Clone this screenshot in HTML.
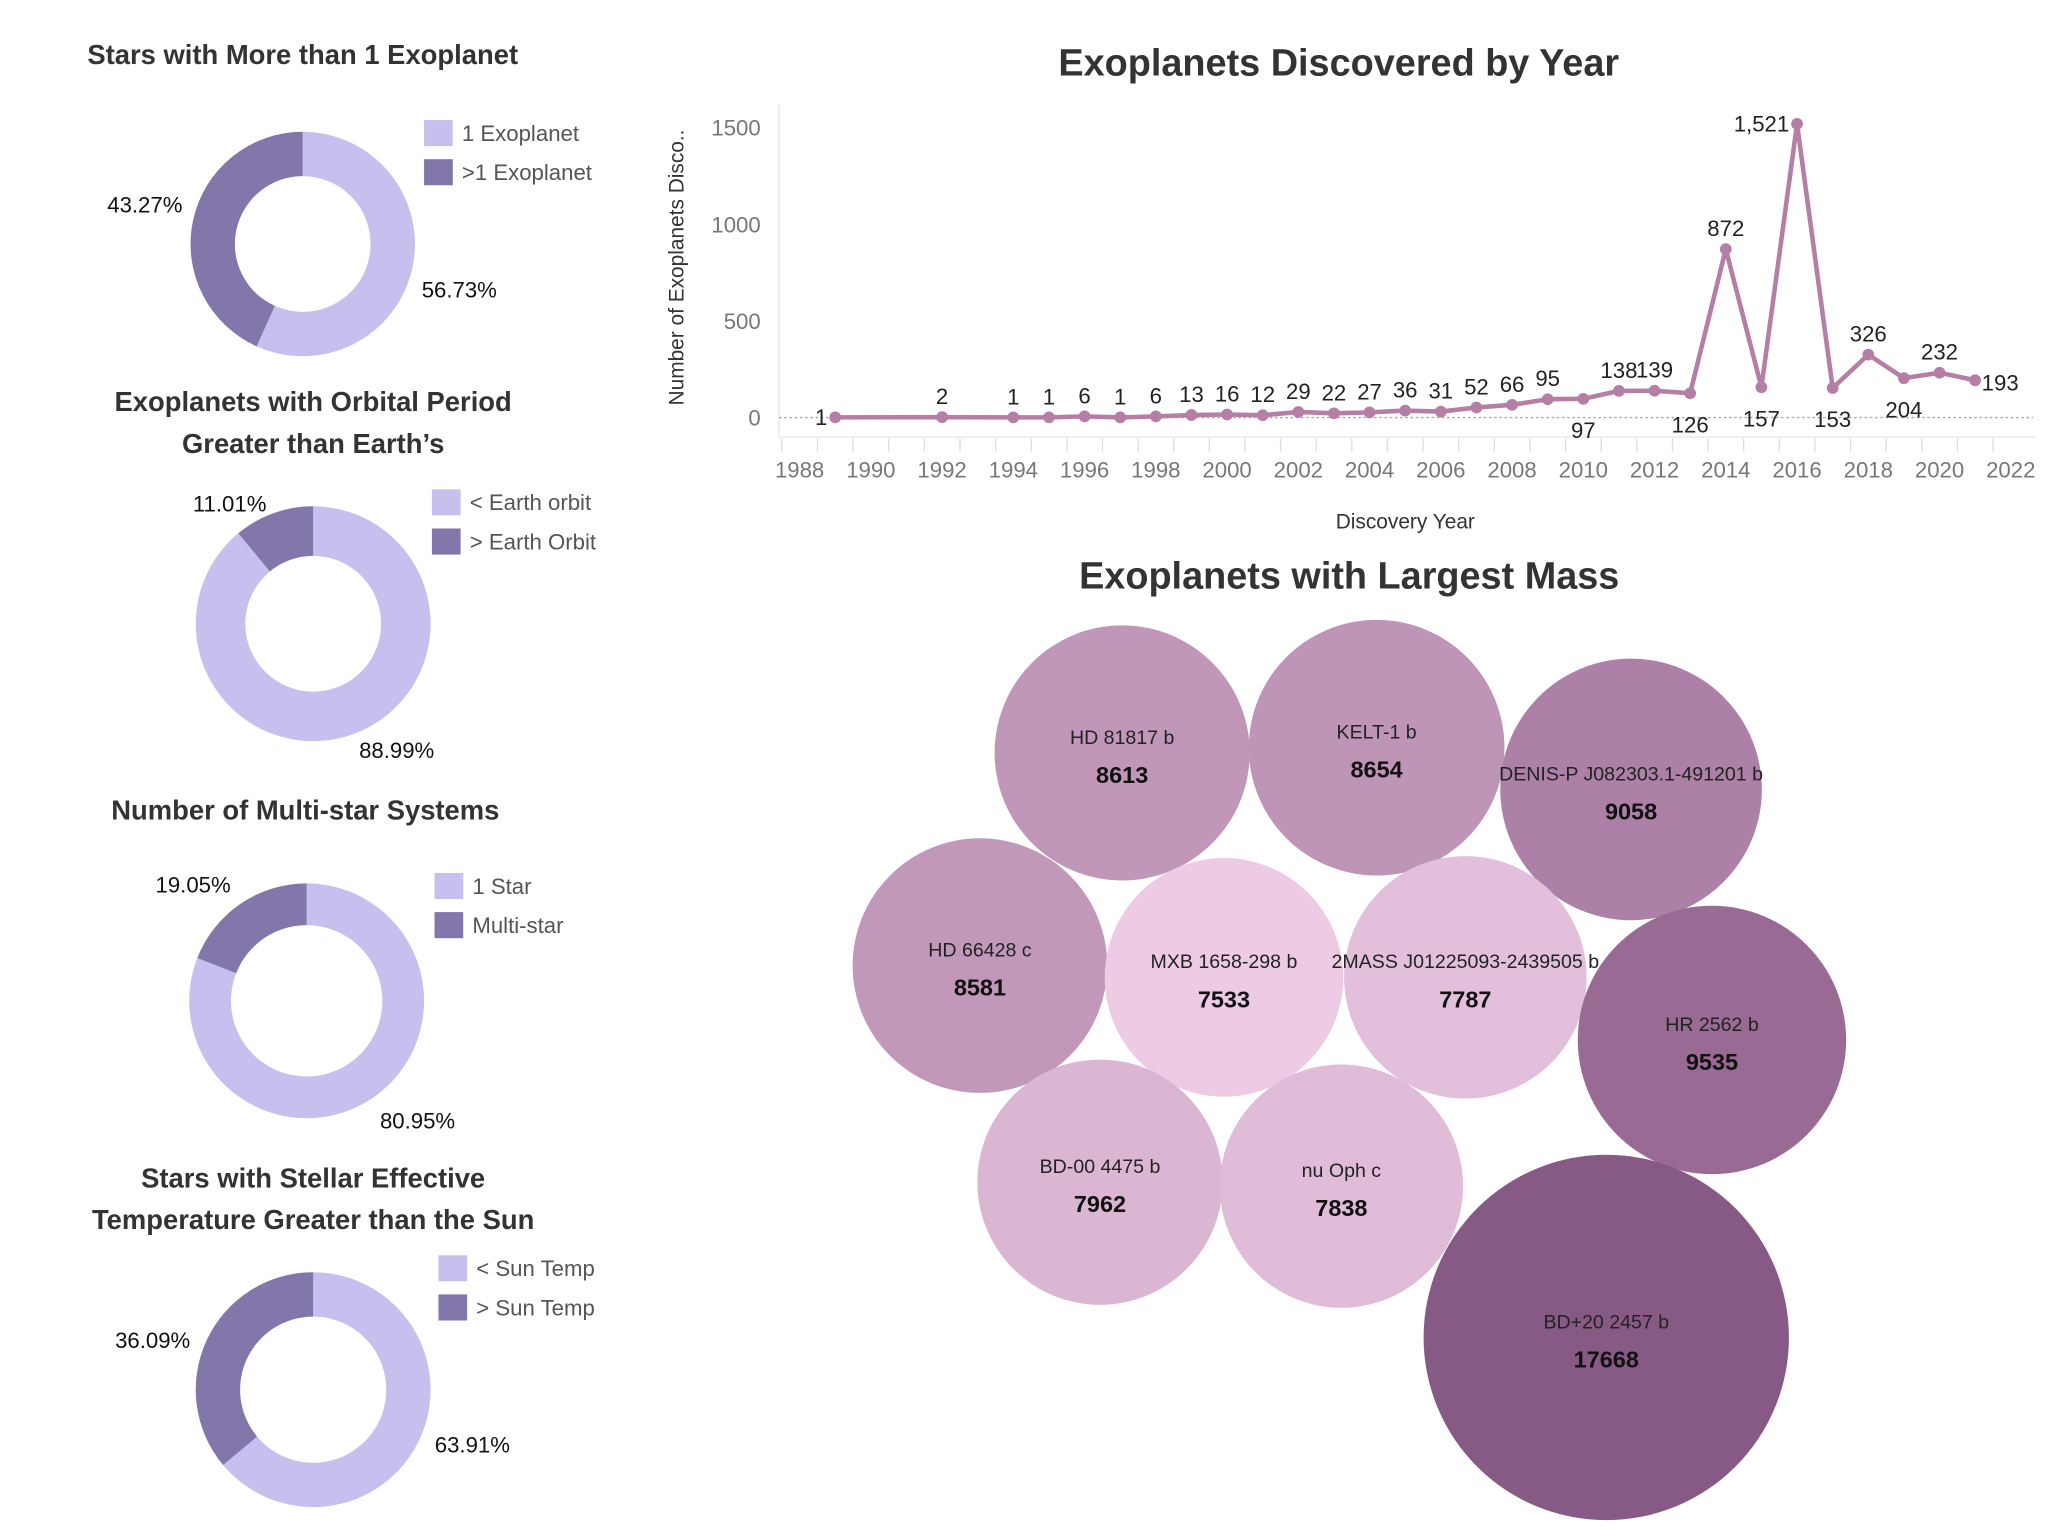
<!DOCTYPE html>
<html><head><meta charset="utf-8"><style>
html,body{margin:0;padding:0;background:#fff;}
svg{display:block;font-family:"Liberation Sans",sans-serif;}
</style></head><body>
<svg id="root" width="2046" height="1534" viewBox="0 0 1568 1175.6" xmlns="http://www.w3.org/2000/svg">
<g id="donuts"></g>
<g id="line"></g>
<g id="bubbles"></g>
</svg>
<script>
// ---- Line chart data ----
const years = [1989,1992,1994,1995,1996,1997,1998,1999,2000,2001,2002,2003,2004,2005,2006,2007,2008,2009,2010,2011,2012,2013,2014,2015,2016,2017,2018,2019,2020,2021];
const counts = [1,2,1,1,6,1,6,13,16,12,29,22,27,36,31,52,66,95,97,138,139,126,872,157,1521,153,326,204,232,193];
const labelPlacement = ['l','a','a','a','a','a','a','a','a','a','a','a','a','a','a','a','a','a','b','a','a','b','a','b','l','b','a','b','a','r'];
const yTicks = [0,500,1000,1500];
const xTicks = [1988,1990,1992,1994,1996,1998,2000,2002,2004,2006,2008,2010,2012,2014,2016,2018,2020,2022];

// ---- Donut data ----
const donutTitles = [["Stars with More than 1 Exoplanet"],["Exoplanets with Orbital Period","Greater than Earth\u2019s"],["Number of Multi-star Systems"],["Stars with Stellar Effective","Temperature Greater than the Sun"]];
const donutLight = [56.73, 88.99, 80.95, 63.91];
const donutDark = [43.27, 11.01, 19.05, 36.09];
const donutLegends = [["1 Exoplanet",">1 Exoplanet"],["< Earth orbit","> Earth Orbit"],["1 Star","Multi-star"],["< Sun Temp","> Sun Temp"]];

// ---- Bubble data ----
const planetNames = ["HD 81817 b","KELT-1 b","DENIS-P J082303.1-491201 b","HD 66428 c","MXB 1658-298 b","2MASS J01225093-2439505 b","HR 2562 b","BD-00 4475 b","nu Oph c","BD+20 2457 b"];
const planetMass = [8613,8654,9058,8581,7533,7787,9535,7962,7838,17668];

const NS="http://www.w3.org/2000/svg";
function mk(tag,attrs,parent,text){const e=document.createElementNS(NS,tag);for(const k in attrs)e.setAttribute(k,attrs[k]);if(text!==undefined)e.textContent=text;parent.appendChild(e);return e;}

// ===== Donuts =====
const dg=document.getElementById('donuts');
const dLayout=[
 {cx:232,cy:187,ro:86,ri:52,ty:[42],tx:232,lx:325,ly:92,pl:[[111,157,'middle'],[352,222,'middle']]},
 {cx:240,cy:478,ro:90,ri:52,ty:[308,340],tx:240,lx:331,ly:375,pl:[[176,386,'middle'],[304,575,'middle']]},
 {cx:235,cy:767,ro:90,ri:58,ty:[621],tx:234,lx:333,ly:669,pl:[[148,678,'middle'],[320,859,'middle']]},
 {cx:240,cy:1065,ro:90,ri:56,ty:[903,935],tx:240,lx:336,ly:962,pl:[[117,1027,'middle'],[362,1107,'middle']]}
];
function arc(cx,cy,ro,ri,a0,a1){
 const p=(r,a)=>[cx+r*Math.sin(a),cy-r*Math.cos(a)];
 const large=(a1-a0)>Math.PI?1:0;
 const [x0,y0]=p(ro,a0),[x1,y1]=p(ro,a1),[x2,y2]=p(ri,a1),[x3,y3]=p(ri,a0);
 return `M${x0},${y0}A${ro},${ro} 0 ${large} 1 ${x1},${y1}L${x2},${y2}A${ri},${ri} 0 ${large} 0 ${x3},${y3}Z`;
}
dLayout.forEach((L,i)=>{
 const g=mk('g',{},dg);
 
 
 donutTitles[i].forEach((t,j)=>{
  const te=mk('text',{x:L.tx,y:L.ty[j]+7,'text-anchor':'middle','font-size':21,'font-weight':'bold',fill:'#333'},g,t);
  
  
 });
 const tot=donutLight[i]+donutDark[i];
 const aL=donutLight[i]/tot*2*Math.PI;
 const s1=mk('path',{d:arc(L.cx,L.cy,L.ro,L.ri,0,aL),fill:'#c6c0ee'},g);
 
 
 const s2=mk('path',{d:arc(L.cx,L.cy,L.ro,L.ri,aL,2*Math.PI-1e-6),fill:'#8276aa'},g);
 
 
 const vals=[donutDark[i],donutLight[i]];
 L.pl.forEach((p,j)=>{
  const te=mk('text',{x:p[0],y:p[1]+6,'text-anchor':p[2],'font-size':17,fill:'#111'},g,vals[j].toFixed(2)+'%');
  
  
 });
 const cols=['#c6c0ee','#8276aa'];
 donutLegends[i].forEach((t,j)=>{
  const r=mk('rect',{x:L.lx,y:L.ly+j*30,width:22,height:20,fill:cols[j]},g);
  
  
  const te=mk('text',{x:L.lx+29,y:L.ly+j*30+16,'font-size':17,fill:'#555'},g,t);
  
  
 });
});

// ===== Line chart =====
const lg=document.getElementById('line');
const X=y=>722+(y-1992)*27.3;
const Y=v=>320-v*(222/1500);
let t=mk('text',{x:1026,y:58,'text-anchor':'middle','font-size':29,'font-weight':'bold',fill:'#333'},lg,'Exoplanets Discovered by Year');


let bd=mk('path',{d:'M597,80V335H1560',stroke:'#eee','stroke-width':1.5,fill:'none'},lg);


let zl=mk('line',{x1:597,x2:1558,y1:Y(0),y2:Y(0),stroke:'#aaa','stroke-width':1,'stroke-dasharray':'2,2'},lg);


yTicks.forEach(v=>{
 const te=mk('text',{x:583,y:Y(v)+6,'text-anchor':'end','font-size':17,fill:'#777'},lg,String(v));
 
 
});
for(let yr=1988;yr<=2022;yr++){
 const tk=mk('line',{x1:X(yr)-13.6,x2:X(yr)-13.6,y1:336,y2:346,stroke:'#ddd','stroke-width':1},lg);
 
 
}
xTicks.forEach(yr=>{
 const te=mk('text',{x:X(yr),y:366,'text-anchor':'middle','font-size':17,fill:'#777'},lg,String(yr));
 
 
});
t=mk('text',{x:1077,y:405,'text-anchor':'middle','font-size':16,fill:'#333'},lg,'Discovery Year');


t=mk('text',{x:0,y:0,'text-anchor':'middle','font-size':16,fill:'#333',transform:'translate(524,205) rotate(-90)'},lg,'Number of Exoplanets Disco..');


const pts=years.map((y,i)=>X(y)+','+Y(counts[i])).join(' ');
const pl=mk('polyline',{points:pts,fill:'none',stroke:'#b57ea5','stroke-width':3.5,'stroke-linejoin':'round'},lg);


years.forEach((y,i)=>{
 const c=mk('circle',{cx:X(y),cy:Y(counts[i]),r:4.5,fill:'#b57ea5'},lg);
 
 
 const p=labelPlacement[i];
 let lx=X(y),ly=Y(counts[i])-10,anc='middle';
 if(p==='b')ly=Y(counts[i])+ (counts[i]>100?30:35);
 if(p==='b'&&y===2010)ly=Y(counts[i])+30;
 if(p==='l'){lx=X(y)-6;ly=Y(counts[i])+6;anc='end';}
 if(p==='r'){lx=X(y)+5;ly=Y(counts[i])+8;anc='start';}
 const lab=counts[i]>=1000?counts[i].toLocaleString('en-US'):String(counts[i]);
 const te=mk('text',{x:lx,y:ly,'text-anchor':anc,'font-size':17,fill:'#222'},lg,lab);
 
 
});

// ===== Bubbles =====
const bg=document.getElementById('bubbles');
t=mk('text',{x:1034,y:451,'text-anchor':'middle','font-size':29,'font-weight':'bold',fill:'#333'},bg,'Exoplanets with Largest Mass');


const bPos=[[860,577],[1055,573],[1250,605],[751,740],[938,749],[1123,749],[1312,797],[843,906],[1028,909],[1231,1025]];
const mMin=Math.min(...planetMass),mMax=Math.max(...planetMass);
const R=m=>140*Math.sqrt(m/mMax);
function col(m){
 const f=Math.min(1,(m-mMin)/(9535-mMin));
 const big=m>9535;
 const a=[237,203,228],b=[153,106,148],c=[135,90,134];
 const e=big?c:b.map((v,k)=>Math.round(a[k]+(v-a[k])*f));
 return `rgb(${e[0]},${e[1]},${e[2]})`;
}
planetNames.forEach((n,i)=>{
 const [cx,cy]=bPos[i];
 const g=mk('g',{},bg);
 
 
 const c=mk('circle',{cx:cx,cy:cy,r:R(planetMass[i]),fill:col(planetMass[i])},g);
 
 
 const t1=mk('text',{x:cx,y:cy-7,'text-anchor':'middle','font-size':15,fill:'#222'},g,n);
 
 
 const t2=mk('text',{x:cx,y:cy+23,'text-anchor':'middle','font-size':18,'font-weight':'bold',fill:'#111'},g,String(planetMass[i]));
 
 
});
</script>
</body></html>
